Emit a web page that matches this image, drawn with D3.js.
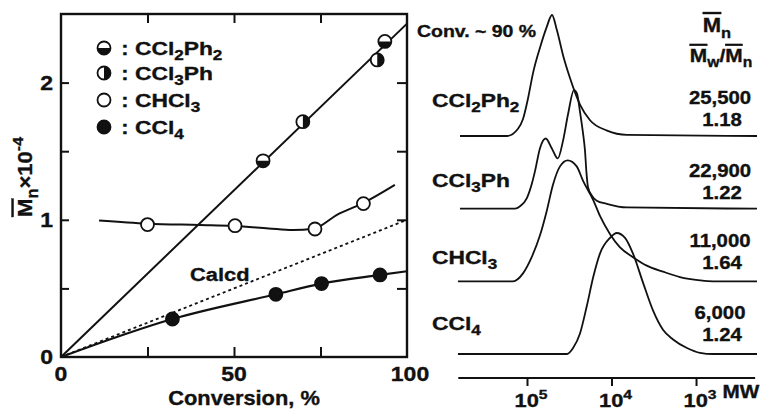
<!DOCTYPE html>
<html><head><meta charset="utf-8">
<script src="https://cdn.jsdelivr.net/npm/d3@7"></script>
<style>
body{margin:0;background:#fff;}
svg text{font-family:"Liberation Sans",Arial,Helvetica,sans-serif;font-weight:bold;fill:#111;stroke:#111;stroke-width:0.35px;}
</style></head><body>
<svg id="c" width="763" height="413"></svg>
<script>
// ---------- Left panel data: Mn x 10^-4 vs conversion ----------
const convCCl2Ph2 = [58.4, 93.6];
const mnCCl2Ph2   = [1.43, 2.30];
const convCCl3Ph  = [69.9, 91.4];
const mnCCl3Ph    = [1.715, 2.165];
const convCHCl3   = [25.0, 50.3, 73.4, 87.4];
const mnCHCl3     = [0.965, 0.957, 0.933, 1.118];
const convCCl4    = [32.2, 62.1, 75.3, 92.2];
const mnCCl4      = [0.277, 0.457, 0.535, 0.598];
// fitted curves
const fitArConv   = [0, 100];
const fitArMn     = [0, 2.43];
const fitCHCl3Conv = [11, 25, 40, 50, 60, 67, 73, 80, 87, 96.5];
const fitCHCl3Mn   = [0.995, 0.972, 0.962, 0.955, 0.937, 0.925, 0.935, 1.04, 1.118, 1.255];
const fitCCl4Conv  = [0, 32.2, 62.1, 75.3, 92.2, 100];
const fitCCl4Mn    = [0, 0.277, 0.457, 0.535, 0.598, 0.625];
const calcdConv    = [0, 100];
const calcdMn      = [0, 1.0];
const xTickLabels  = [0, 50, 100];
const yTickLabels  = [0, 1, 2];

// ---------- Right panel data: GPC traces ----------
const gpcSamples = ["CCl2Ph2", "CCl3Ph", "CHCl3", "CCl4"];
const gpcMn  = ["25,500", "22,900", "11,000", "6,000"];
const gpcPDI = ["1.18", "1.22", "1.64", "1.24"];
const mwCCl2Ph2 = [621000,172500,127800,111500,97300,84900,70200,58500,50600,44500,37200,31000,23600,17960,11300,6560,190];
const hCCl2Ph2  = [0,0,0.06,0.14,0.31,0.52,0.73,0.90,1.0,0.88,0.66,0.48,0.26,0.13,0.045,0.01,0];
const mwCCl3Ph = [621000,138700,121000,100000,87300,80400,70200,60100,51000,43300,37500,32700,27800,25600,23600,21700,20600,19800,19000,17150,14960,11400,6610,190];
const hCCl3Ph  = [0,0,0.02,0.09,0.21,0.31,0.50,0.58,0.50,0.415,0.56,0.78,0.98,0.95,0.80,0.62,0.48,0.30,0.18,0.11,0.066,0.04,0.01,0];
const mwCHCl3 = [656000,146500,111500,88000,70200,58500,49200,40700,33000,25800,21700,16400,13700,10400,7930,5570,3830,2460,1550,897,629,190];
const hCHCl3  = [0,0,0.066,0.20,0.38,0.58,0.80,0.95,1.0,0.95,0.83,0.67,0.54,0.39,0.28,0.20,0.13,0.08,0.035,0.008,0,0];
const mwCCl4 = [656000,33600,28500,23600,19700,16400,13700,10400,8680,6920,5570,4240,3230,2460,1870,1280,897,629,190];
const hCCl4  = [0,0,0.05,0.17,0.39,0.64,0.83,0.96,1.0,0.96,0.83,0.59,0.36,0.20,0.12,0.05,0.01,0,0];
const mwTicks = [1e5, 1e4, 1e3];
const mwTickExp = ["5", "4", "3"];

// ---------- drawing ----------
const svg = d3.select("#c");
const ink = "#111";

function label(x, y, parts, o = {}) {
  const size = o.size || 19, sx = o.sx || 1.15;
  const t = svg.append("text")
    .attr("transform", `translate(${x},${y}) ${o.rot ? "rotate(" + o.rot + ")" : ""} scale(${sx},1)`)
    .attr("font-size", size)
    .attr("text-anchor", o.anchor || "start");
  let shift = 0;
  parts.forEach(p => {
    if (typeof p === "string") p = { t: p };
    let target = 0, fs = size;
    if (p.sub) { target = size * 0.28; fs = size * 0.75; }
    if (p.sup) { target = -size * 0.42; fs = size * 0.72; }
    const ts = t.append("tspan").text(p.t).attr("font-size", fs).attr("dy", target - shift);
    if (p.over) ts.style("text-decoration", "overline");
    shift = target;
  });
  return t;
}

// scales left
const x = d3.scaleLinear().domain([0, 100]).range([61, 407]);
const y = d3.scaleLinear().domain([0, 2.5]).range([357, 14]);

const L = svg.append("g");
L.append("rect").attr("x", x(0)).attr("y", y(2.5)).attr("width", x(100) - x(0)).attr("height", y(0) - y(2.5))
  .attr("fill", "none").attr("stroke", ink).attr("stroke-width", 2.4);

function ticks(axis, tr) {
  const g = L.append("g").attr("transform", tr).call(axis);
  g.select(".domain").remove();
  g.selectAll("line").attr("stroke", ink).attr("stroke-width", 2);
  g.selectAll("text").remove();
}
ticks(d3.axisLeft(y).tickValues([0.5, 1, 1.5, 2]).tickSize(-8), `translate(${x(0)},0)`);
ticks(d3.axisRight(y).tickValues([0.5, 1, 1.5, 2]).tickSize(-10), `translate(${x(100)},0)`);
ticks(d3.axisBottom(x).tickValues([25, 50, 75]).tickSize(-10), `translate(0,${y(0)})`);
ticks(d3.axisTop(x).tickValues([25, 50, 75]).tickSize(-9), `translate(0,${y(2.5)})`);

yTickLabels.forEach(v => label(53, y(v) + 7, [String(v)], { size: 20, anchor: "end", sx: 1.15 }));
xTickLabels.forEach(v => label(x(v) + (v === 100 ? 3 : 0), 381, [String(v)], { size: 20, anchor: "middle", sx: 1.15 }));
label(244, 405, ["Conversion, %"], { size: 19.5, anchor: "middle", sx: 1.12 });
label(32, 177, [{ t: "M", over: true }, { t: "n", sub: true }, { t: "×10" }, { t: "-4", sup: true }], { size: 21, anchor: "middle", rot: -90, sx: 1.05 });

const line = d3.line().x(d => x(d[0])).y(d => y(d[1]));
const zip = (a, b) => a.map((v, i) => [v, b[i]]);

L.append("path").attr("d", line(zip(fitArConv, fitArMn))).attr("fill", "none").attr("stroke", ink).attr("stroke-width", 2);
L.append("path").attr("d", line.curve(d3.curveMonotoneX)(zip(fitCHCl3Conv, fitCHCl3Mn))).attr("fill", "none").attr("stroke", ink).attr("stroke-width", 2);
L.append("path").attr("d", line.curve(d3.curveMonotoneX)(zip(fitCCl4Conv, fitCCl4Mn))).attr("fill", "none").attr("stroke", ink).attr("stroke-width", 2.2);
L.append("path").attr("d", line.curve(d3.curveLinear)(zip(calcdConv, calcdMn))).attr("fill", "none").attr("stroke", ink)
  .attr("stroke-width", 1.8).attr("stroke-dasharray", "3,3");
label(190, 281, ["Calcd"], { size: 19, sx: 1.15 });

const R = 6.5;
function marker(g, cx, cy, type) {
  const m = g.append("g").attr("transform", `translate(${cx},${cy})`);
  m.append("circle").attr("r", R).attr("fill", type === "full" ? ink : "#fff");
  if (type === "bottom" || type === "right") {
    const a = type === "bottom" ? [Math.PI / 2, Math.PI * 1.5] : [0, Math.PI];
    m.append("path").attr("d", d3.arc()({ innerRadius: 0, outerRadius: R, startAngle: a[0], endAngle: a[1] })).attr("fill", ink);
  }
  m.append("circle").attr("r", R).attr("fill", "none").attr("stroke", ink).attr("stroke-width", 1.8);
}
zip(convCCl2Ph2, mnCCl2Ph2).forEach(d => marker(L, x(d[0]), y(d[1]), "bottom"));
zip(convCCl3Ph, mnCCl3Ph).forEach(d => marker(L, x(d[0]), y(d[1]), "right"));
zip(convCHCl3, mnCHCl3).forEach(d => marker(L, x(d[0]), y(d[1]), "open"));
zip(convCCl4, mnCCl4).forEach(d => marker(L, x(d[0]), y(d[1]), "full"));

// legend
const legRows = [48, 73, 100, 127];
const legTypes = ["bottom", "right", "open", "full"];
const legParts = [
  ["CCl", { t: "2", sub: true }, "Ph", { t: "2", sub: true }],
  ["CCl", { t: "3", sub: true }, "Ph"],
  ["CHCl", { t: "3", sub: true }],
  ["CCl", { t: "4", sub: true }]
];
legRows.forEach((ry, i) => {
  marker(L, 104, ry, legTypes[i]);
  label(125, ry + 7, [":"], { size: 19, anchor: "middle" });
  label(135, ry + 7, legParts[i], { size: 19, sx: 1.2 });
});

// ---------- right panel ----------
const mx = d3.scaleLog().domain([650000, 200]).range([458.3, 755.1]);
const base = d3.scaleLinear().domain([0, 3]).range([136, 354]);
const hy = d3.scaleLinear().domain([0, 1]).range([0, 121]);
const Rg = svg.append("g");
const traces = [zip(mwCCl2Ph2, hCCl2Ph2), zip(mwCCl3Ph, hCCl3Ph), zip(mwCHCl3, hCHCl3), zip(mwCCl4, hCCl4)];
traces.forEach((tr, i) => {
  const ln = d3.line().x(d => mx(d[0])).y(d => base(i) - hy(d[1])).curve(d3.curveMonotoneX);
  Rg.append("path").attr("d", ln(tr)).attr("fill", "none").attr("stroke", ink).attr("stroke-width", 1.8);
});
const ax = Rg.append("g").attr("transform", "translate(0,378)")
  .call(d3.axisBottom(mx).tickValues(mwTicks).tickSize(8).tickFormat(""));
ax.select(".domain").attr("stroke", ink).attr("stroke-width", 2).attr("d", `M${mx(650000)},0H${mx(200)}`);
ax.selectAll("line").attr("stroke", ink).attr("stroke-width", 2);
mwTicks.forEach((v, i) => label(mx(v) + 4, 407, ["10", { t: mwTickExp[i], sup: true }], { size: 19, anchor: "middle", sx: 1.15 }));
label(741, 398, ["MW"], { size: 18, anchor: "middle", sx: 1.15 });

label(417, 37, ["Conv. ~ 90 %"], { size: 16.5, sx: 1.18 });
label(717, 32, [{ t: "M", over: true }, { t: "n", sub: true }], { size: 20, anchor: "middle", sx: 1.1 });
label(721, 62, [{ t: "M", over: true }, { t: "w", sub: true }, "/", { t: "M", over: true }, { t: "n", sub: true }], { size: 19, anchor: "middle", sx: 1.1 });

const sampleY = [100, 180, 257, 323];
sampleY.forEach((sy, i) => label(432, sy + 7, legParts[i], { size: 19, sx: 1.2 }));
const numY = [96.7, 170, 240, 311.7];
numY.forEach((ny, i) => {
  label(720, ny + 7, [gpcMn[i]], { size: 18.5, anchor: "middle", sx: 1.1 });
  label(722, ny + 29, [gpcPDI[i]], { size: 18.5, anchor: "middle", sx: 1.1 });
});
</script></body></html>
